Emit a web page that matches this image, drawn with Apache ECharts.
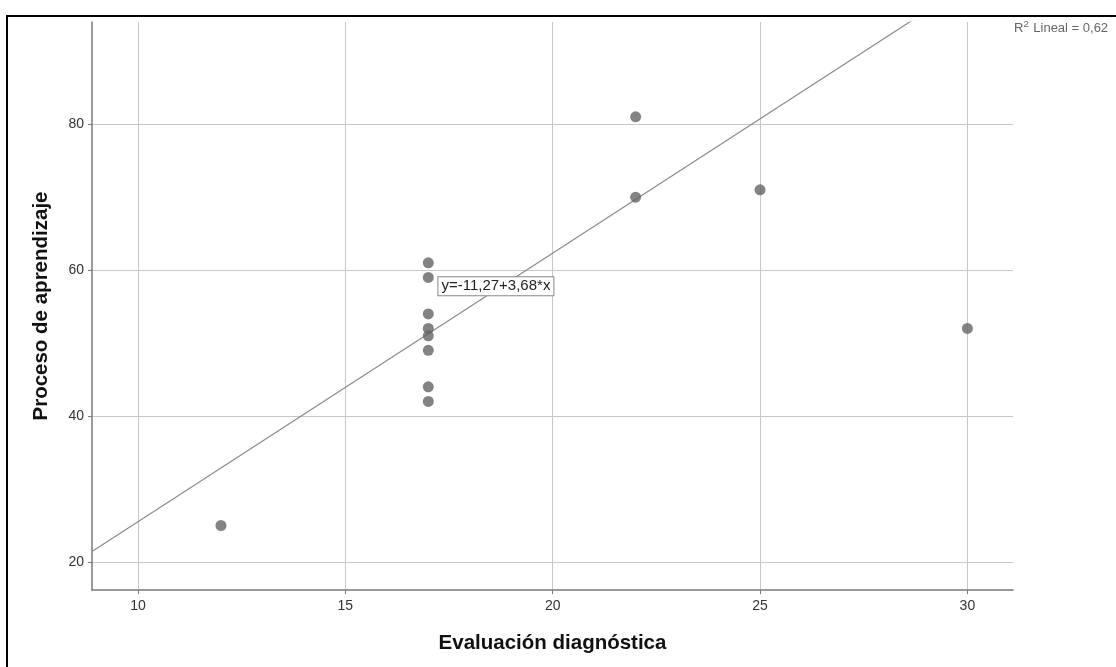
<!DOCTYPE html>
<html><head><meta charset="utf-8">
<script src="https://cdn.jsdelivr.net/npm/echarts@6/dist/echarts.min.js"></script>
<style>html,body{margin:0;padding:0;background:#fff}#c{width:1116px;height:667px}</style>
</head><body><div id="c"></div>
<script>
// Data
const evalDiag = [12, 17, 17, 17, 17, 17, 17, 17, 17, 22, 22, 25, 30];
const procAprend = [25, 61, 59, 54, 52, 51, 49, 44, 42, 81, 70, 71, 52];
const xTicks = [10, 15, 20, 25, 30];
const yTicks = [20, 40, 60, 80];
const intercept = -11.27;
const slope = 3.68;
const r2Text = '0,62';
const eqText = 'y=-11,27+3,68*x';
const xMin = 8.89, xMax = 31.1, yMin = 16.16, yMax = 94;

const points = evalDiag.map((x, i) => [x, procAprend[i]]);
const lineData = [[xMin, intercept + slope * xMin], [xMax, intercept + slope * xMax]];

const chart = echarts.init(document.getElementById('c'));
const font = 'Liberation Sans, Arial, sans-serif';
chart.setOption({
  animation: false,
  textStyle: { fontFamily: font },
  grid: { left: 92, right: 103, top: 22, bottom: 77 },
  xAxis: {
    type: 'value', min: xMin, max: xMax,
    name: 'Evaluación diagnóstica', nameLocation: 'middle', nameGap: 43,
    nameTextStyle: { fontSize: 20.5, fontWeight: 'bold', color: '#111', fontFamily: font },
    axisLine: { show: true, lineStyle: { color: '#7a7a7a', width: 1.5 } },
    axisTick: { show: true, length: 4, customValues: xTicks, lineStyle: { color: '#7a7a7a' } },
    axisLabel: { customValues: xTicks, color: '#333', fontSize: 14, margin: 9, fontFamily: font },
    splitLine: { show: true, lineStyle: { color: '#c8c8c8', width: 1 } }
  },
  yAxis: {
    type: 'value', min: yMin, max: yMax,
    name: 'Proceso de aprendizaje', nameLocation: 'middle', nameGap: 40,
    nameTextStyle: { fontSize: 20.5, fontWeight: 'bold', color: '#111', fontFamily: font },
    axisLine: { show: true, lineStyle: { color: '#7a7a7a', width: 1.5 } },
    axisTick: { show: true, length: 4, customValues: yTicks, lineStyle: { color: '#7a7a7a' } },
    axisLabel: { customValues: yTicks, color: '#333', fontSize: 14, margin: 8, fontFamily: font },
    splitLine: { show: true, lineStyle: { color: '#c8c8c8', width: 1 } }
  },
  series: [
    {
      type: 'line', data: lineData, symbol: 'none', clip: true,
      lineStyle: { color: '#8a8a8a', width: 1.2 }, z: 3,
      markPoint: {
        symbol: 'rect', symbolSize: 0,
        data: [{ coord: [18.63, 57.8] }],
        label: {
          show: true, formatter: eqText, color: '#222', fontSize: 15, fontFamily: font,
          backgroundColor: '#fff', borderColor: '#888', borderWidth: 1, padding: [2, 3, 1, 3],
          position: 'inside'
        }
      }
    },
    {
      type: 'scatter', data: points, symbolSize: 11,
      itemStyle: { color: '#646464' }, z: 4
    }
  ],
  graphic: [{
    type: 'rect', shape: { x: 7, y: 16, width: 1200, height: 800 },
    style: { fill: 'none', stroke: '#000', lineWidth: 2 }, z: 100
  }, {
    type: 'text', left: 1014, top: 19, z: 100,
    style: {
      text: '{a|R}{s|2}{a| Lineal = ' + r2Text + '}',
      rich: {
        a: { fontSize: 13, fill: '#666', fontFamily: font, verticalAlign: 'bottom', lineHeight: 16 },
        s: { fontSize: 9.5, fill: '#666', fontFamily: font, verticalAlign: 'top', lineHeight: 16, padding: [0, 1, 7, 0] }
      }
    }
  }]
});
</script></body></html>
